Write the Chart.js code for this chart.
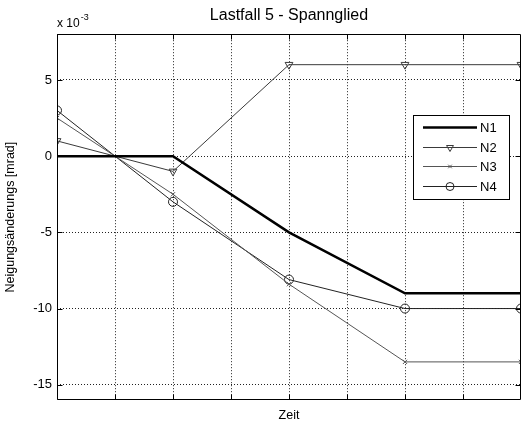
<!DOCTYPE html>
<html>
<head>
<meta charset="utf-8">
<script src="https://cdn.jsdelivr.net/npm/chart.js@4.4.0/dist/chart.umd.min.js"></script>
<style>
  body { margin: 0; background: #fff; }
</style>
</head>
<body>
<canvas id="grafico" width="521" height="423"></canvas>
<script>
// Werte (x 10^-3 mrad) über Zeit
const zeit = [0, 2, 4, 6, 8];
const n1 = [0, 0, -5, -9, -9];
const n2 = [1, -1, 6, 6, 6];
const n3 = [2.5, -2.5, -8.4, -13.5, -13.5];
const n4 = [3, -3, -8.1, -10, -10];
const yTicks = [-15, -10, -5, 0, 5];
const namen = ['N1', 'N2', 'N3', 'N4'];

const schrift = "'Liberation Sans', Arial, sans-serif";

function punkte(werte) {
    return zeit.map((t, i) => ({ x: t, y: werte[i] }));
}

// Rahmen, Ticks nach innen, Exponent und Legende (Matlab-Stil)
const matlabStil = {
    id: 'matlabStil',
    afterDraw(chart) {
        const ctx = chart.ctx;
        const a = chart.chartArea;
        const sx = chart.scales.x, sy = chart.scales.y;
        ctx.save();
        ctx.strokeStyle = '#000';
        ctx.lineWidth = 1;
        ctx.beginPath();
        const l = Math.round(a.left) + 0.5, r = Math.round(a.right) - 0.5;
        const t = Math.round(a.top) + 0.5, b = Math.round(a.bottom) - 0.5;
        ctx.rect(l, t, r - l, b - t);
        sx.ticks.forEach(tk => {
            const px = Math.round(sx.getPixelForValue(tk.value)) + 0.5;
            ctx.moveTo(px, b); ctx.lineTo(px, b - 5);
            ctx.moveTo(px, t); ctx.lineTo(px, t + 5);
        });
        sy.ticks.forEach(tk => {
            const py = Math.round(sy.getPixelForValue(tk.value)) + 0.5;
            ctx.moveTo(l, py); ctx.lineTo(l + 5, py);
            ctx.moveTo(r, py); ctx.lineTo(r - 5, py);
        });
        ctx.stroke();

        // Exponent
        ctx.fillStyle = '#000';
        ctx.textBaseline = 'alphabetic';
        ctx.textAlign = 'left';
        ctx.font = '12px ' + schrift;
        ctx.fillText('x 10', a.left, 27);
        const w = ctx.measureText('x 10').width;
        ctx.font = '9px ' + schrift;
        ctx.fillText('-3', a.left + w + 1, 20);

        // Legende
        const lx = 413, ly = 115, lw = 96, lh = 84;
        ctx.fillStyle = '#fff';
        ctx.fillRect(lx, ly, lw, lh);
        ctx.strokeStyle = '#000';
        ctx.strokeRect(lx + 0.5, ly + 0.5, lw, lh);
        const zeilen = [127, 147, 166, 186];
        chart.data.datasets.forEach((ds, i) => {
            const y = zeilen[i] + 0.5;
            ctx.strokeStyle = ds.borderColor;
            ctx.lineWidth = ds.borderWidth;
            ctx.beginPath();
            ctx.moveTo(423, y); ctx.lineTo(477, y);
            ctx.stroke();
            if (ds.pointRadius > 0) {
                ctx.fillStyle = 'rgba(0,0,0,0)';
                ctx.lineWidth = 1;
                Chart.helpers.drawPoint(ctx, {
                    pointStyle: ds.pointStyle,
                    radius: ds.pointRadius - 0.5,
                    rotation: ds.pointRotation || 0,
                    borderWidth: 1
                }, 450, y);
            }
            ctx.fillStyle = '#000';
            ctx.font = '13px ' + schrift;
            ctx.textBaseline = 'middle';
            ctx.fillText(ds.label, 480, zeilen[i] + 1);
        });
        ctx.restore();
    }
};

const ctxNeigung = document.getElementById('grafico').getContext('2d');
const neigungChart = new Chart(ctxNeigung, {
    type: 'line',
    data: {
        datasets: [{
            label: namen[0],
            data: punkte(n1),
            borderColor: '#000',
            borderWidth: 2.5,
            pointRadius: 0
        }, {
            label: namen[1],
            data: punkte(n2),
            borderColor: '#3a3a3a',
            borderWidth: 1,
            pointStyle: 'triangle',
            pointRotation: 180,
            pointRadius: 4.5,
            pointBorderColor: '#3a3a3a',
            pointBackgroundColor: 'rgba(0,0,0,0)'
        }, {
            label: namen[2],
            data: punkte(n3),
            borderColor: '#555',
            borderWidth: 1,
            pointStyle: 'crossRot',
            pointRadius: 3,
            pointBorderColor: '#555'
        }, {
            label: namen[3],
            data: punkte(n4),
            borderColor: '#222',
            borderWidth: 1,
            pointStyle: 'circle',
            pointRadius: 4.5,
            pointBorderColor: '#222',
            pointBackgroundColor: 'rgba(0,0,0,0)'
        }]
    },
    options: {
        responsive: false,
        animation: false,
        layout: { autoPadding: false, padding: { left: 0, right: 0, top: 0, bottom: 0 } },
        plugins: {
            legend: { display: false },
            tooltip: { enabled: false },
            title: {
                display: true,
                fullSize: false,
                text: 'Lastfall 5 - Spannglied',
                color: '#000',
                font: { family: schrift, size: 16, weight: 'normal', lineHeight: 1.2 },
                padding: { top: 6, bottom: 9 }
            }
        },
        scales: {
            x: {
                type: 'linear',
                min: 0,
                max: 8,
                ticks: { display: false, stepSize: 1 },
                grid: { color: '#222', drawTicks: false },
                border: { display: false, dash: [1, 2] },
                title: {
                    display: true,
                    text: 'Zeit',
                    color: '#000',
                    font: { family: schrift, size: 12.5 },
                    padding: { top: 0, bottom: 0 }
                },
                afterFit(scale) { scale.height = 23; }
            },
            y: {
                min: -16,
                max: 8,
                afterBuildTicks(scale) {
                    scale.ticks = yTicks.map(v => ({ value: v }));
                },
                ticks: {
                    color: '#000',
                    padding: 5,
                    font: { family: schrift, size: 13 }
                },
                grid: { color: '#222', drawTicks: false },
                border: { display: false, dash: [1, 2] },
                title: {
                    display: true,
                    text: 'Neigungsänderungs [mrad]',
                    color: '#000',
                    font: { family: schrift, size: 12.5 },
                    padding: { top: 3, bottom: 0 }
                },
                afterFit(scale) { scale.width = 57; }
            }
        }
    },
    plugins: [matlabStil]
});
</script>
</body>
</html>
